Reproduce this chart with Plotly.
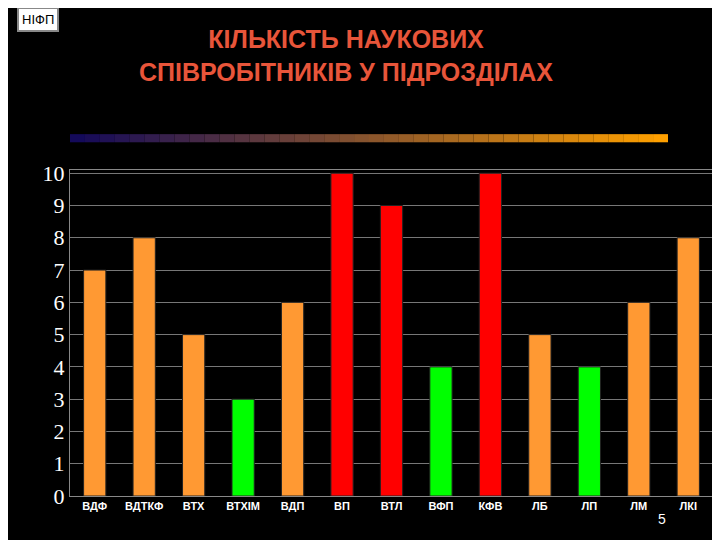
import plotly.graph_objects as go

categories = ["ВДФ","ВДТКФ","ВТХ","ВТХІМ","ВДП","ВП","ВТЛ","ВФП","КФВ","ЛБ","ЛП","ЛМ","ЛКІ"]
values = [7,8,5,3,6,10,9,4,10,5,4,6,8]
colors = ["#FF9933","#FF9933","#FF9933","#00FF00","#FF9933","#FF0000","#FF0000",
          "#00FF00","#FF0000","#FF9933","#00FF00","#FF9933","#FF9933"]
y_ticks = list(range(0, 11))

fig = go.Figure(go.Bar(x=categories, y=values, marker=dict(color=colors, line=dict(color="#222", width=1)),
                       width=0.45))

shapes = []
n = 40
x0, x1 = 0.0, 0.93
for i in range(n):
    t = i / (n - 1)
    r = int(20 + t * 235); g = int(10 + t * 150); b = int(90 * (1 - t))
    shapes.append(dict(type="rect", xref="paper", yref="paper",
                       x0=x0 + (x1 - x0) * i / n, x1=x0 + (x1 - x0) * (i + 1) / n,
                       y0=1.085, y1=1.11, fillcolor=f"rgb({r},{g},{b})", line=dict(width=0), layer="below"))

fig.update_layout(
    width=720, height=540, paper_bgcolor="black", plot_bgcolor="black",
    margin=dict(l=62, r=15, t=162, b=52), showlegend=False, bargap=0.5,
    xaxis=dict(tickfont=dict(family="Liberation Sans", size=11, color="white"), showline=True,
               linecolor="#888", mirror=True, tickangle=0, tickprefix="<b>", ticksuffix="</b>"),
    yaxis=dict(range=[0, 10.1], tickvals=y_ticks, showgrid=True, gridcolor="#777",
               tickfont=dict(family="Liberation Serif", size=22, color="white"),
               tickprefix="<b>", ticksuffix="</b>",
               showline=True, linecolor="#888", mirror=True, zeroline=False),
    shapes=shapes,
    annotations=[
        dict(text="<b>КІЛЬКІСТЬ НАУКОВИХ<br>СПІВРОБІТНИКІВ У ПІДРОЗДІЛАХ</b>", xref="paper", yref="paper",
             x=0.43, y=1.45, xanchor="center", yanchor="top", showarrow=False,
             font=dict(family="Liberation Sans, Arial", size=25, color="#E8553A")),
        dict(text="НІФП", xref="paper", yref="paper", x=-0.082, y=1.5, xanchor="left", yanchor="top",
             showarrow=False, font=dict(family="Liberation Sans", size=13, color="black"),
             bgcolor="white", bordercolor="#888", borderwidth=2, borderpad=3),
        dict(text="5", xref="paper", yref="paper", x=0.93, y=-0.1, showarrow=False,
             font=dict(family="Liberation Sans", size=14, color="white")),
    ],
)
fig.write_html("out.html")
